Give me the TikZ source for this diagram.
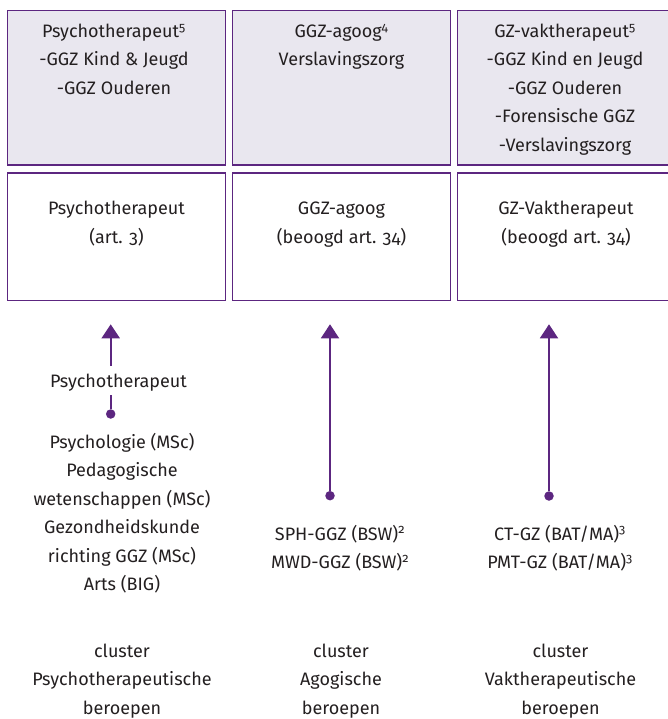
\documentclass[tikz,border=0pt]{standalone}
\usepackage{fontspec}
\setmainfont{Fira Sans}[Numbers=OldStyle]
\usepackage{xcolor}
\usetikzlibrary{arrows.meta}

\definecolor{paars}{RGB}{92,38,128}
\definecolor{lila}{RGB}{233,231,239}
\definecolor{inkt}{RGB}{35,31,32}

\tikzset{
  kader/.style={draw=paars, line width=1.5pt, minimum width=218.4pt, inner sep=0pt},
  bovenkader/.style={kader, fill=lila, minimum height=154.3pt},
  middenkader/.style={kader, minimum height=127.7pt},
  % anchor=base ligt bij meerdere regels op de laatste regel
  tekst/.style={align=center, anchor=base, inner sep=0pt, text=inkt,
    font=\fontsize{18}{28.5}\selectfont},
  pijl/.style={draw=paars, line width=2pt, -{Triangle[width=18pt,length=14pt]}},
  lijn/.style={draw=paars, line width=2pt},
  stip/.style={circle, fill=paars, inner sep=0pt, minimum size=9.5pt},
}

\begin{document}
\begin{tikzpicture}[x=1pt,y=-1pt]
        \useasboundingbox (0,0) rectangle (667,719);

        % bovenste rij: specialismen
        \node[bovenkader] (b1) at (116.5,87.85) {};
        \node[bovenkader] (b2) at (341.5,87.85) {};
        \node[bovenkader] (b3) at (566.9,87.85) {};

        \node[tekst] (b1t) at (114,94.5) {Psychotherapeut\textsuperscript{5}\\-GGZ Kind \& Jeugd\\-GGZ Ouderen};
        \node[tekst] (b2t) at (341.5,66) {GGZ-agoog\textsuperscript{4}\\Verslavingszorg};
        \node[tekst] (b3t) at (565,151.5) {GZ-vaktherapeut\textsuperscript{5}\\-GGZ Kind en Jeugd\\-GGZ Ouderen\\-Forensische GGZ\\-Verslavingszorg};

        % middelste rij: beroepen
        \node[middenkader] (m1) at (116.5,236.85) {};
        \node[middenkader] (m2) at (341.5,236.85) {};
        \node[middenkader] (m3) at (566.9,236.85) {};

        \node[tekst] (m1t) at (116.5,243.5) {Psychotherapeut\\(art. 3)};
        \node[tekst] (m2t) at (341.5,243.5) {GGZ-agoog\\(beoogd art. 34)};
        \node[tekst] (m3t) at (566,243.5) {GZ-Vaktherapeut\\(beoogd art. 34)};

        % pijlen
        \coordinate (top1) at (110.7,324.3);
        \coordinate (top2) at (330,324.3);
        \coordinate (top3) at (549,324.3);

        \node[stip] (d1) at (110.7,414) {};
        \node[stip] (d2) at (330,495.7) {};
        \node[stip] (d3) at (549,496) {};

        \node[tekst, inner ysep=7.5pt] (psy) at (118.5,387.3) {Psychotherapeut};

        \draw[pijl] (psy.north -| top1) -- (top1);
        \draw[lijn] (d1) -- ([yshift=4pt]psy.south -| d1);
        \draw[pijl] (d2) -- (top2);
        \draw[pijl] (d3) -- (top3);

        % opleidingen
        \node[tekst] (o1) at (122,590.5) {Psychologie (MSc)\\Pedagogische\\wetenschappen (MSc)\\Gezondheidskunde\\richting GGZ (MSc)\\Arts (BIG)};
        \node[tekst] (o2) at (340,568.5) {SPH-GGZ (BSW)\textsuperscript{2}\\MWD-GGZ (BSW)\textsuperscript{2}};
        \node[tekst] (o3) at (560,568.5) {CT-GZ (BAT/MA)\textsuperscript{3}\\PMT-GZ (BAT/MA)\textsuperscript{3}};

        % clusters
        \node[tekst] (c1) at (122,714) {cluster\\Psychotherapeutische\\beroepen};
        \node[tekst] (c2) at (341,714) {cluster\\Agogische\\beroepen};
        \node[tekst] (c3) at (560.5,714) {cluster\\Vaktherapeutische\\beroepen};
\end{tikzpicture}
\end{document}
